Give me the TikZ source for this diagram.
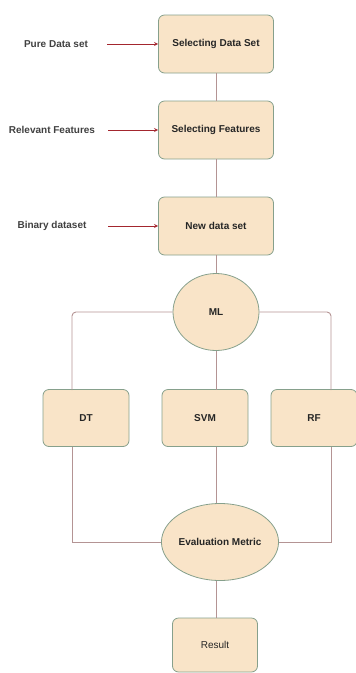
\documentclass[tikz,border=0pt]{standalone}
\usepackage{fontspec}
\setmainfont{Liberation Sans}
\usetikzlibrary{shapes.geometric}
\definecolor{boxfill}{HTML}{F9E4C8}
\definecolor{boxline}{HTML}{86A08C}
\definecolor{linkcol}{HTML}{B49494}
\definecolor{arrcol}{HTML}{A3262E}
\tikzset{
	stage/.style={draw=boxline,fill=boxfill,rounded corners=6pt,line width=0.8pt,minimum width=115pt,minimum height=58pt,font=\bfseries\fontsize{10}{11}\selectfont,text=black!85},
	algo/.style={stage,minimum width=86pt,minimum height=57pt},
	blob/.style={ellipse,draw=boxline,fill=boxfill,line width=0.8pt,inner sep=0pt,font=\bfseries\fontsize{10}{11}\selectfont,text=black!85},
	src/.style={font=\bfseries\fontsize{10}{11}\selectfont,text=black!75},
	link/.style={draw=linkcol,line width=0.9pt},
	feed/.style={draw=arrcol,line width=0.8pt,-stealth}
}
\begin{document}
\begin{tikzpicture}[x=1pt,y=-1pt]
	\useasboundingbox (0,0) rectangle (356,673);
	% main chain
	\node[stage] (sel) at (216,44) {Selecting Data Set};
	\node[stage] (feat) at (216,130) {Selecting Features};
	\node[stage] (new) at (216,226) {New data set};
	\node[blob,minimum width=86pt,minimum height=77pt] (ml) at (216,312) {ML};
	% inputs
	\node[src] (pure) at (56,44) {Pure Data set};
	\node[src] (rel) at (52,130) {Relevant Features};
	\node[src] (bin) at (52,226) {Binary dataset};
	\coordinate (pureend) at (107,44);
	\coordinate (relend) at (108,130);
	\coordinate (binend) at (108,226);
	\draw[feed] (pureend) -- (sel.west); %in 1
	\draw[feed] (relend) -- (feat.west); %in 2
	\draw[feed] (binend) -- (new.west); %in 3
	\draw[link] (sel) -- (feat);
	\draw[link] (feat) -- (new);
	\draw[link] (new) -- (ml);
	% classifiers
	\node[algo] (dt) at (86,418) {DT};
	\node[algo] (svm) at (205,418) {SVM};
	\node[algo] (rf) at (314,418) {RF};
	\node[blob,minimum width=94pt,minimum height=77pt] (eval) at (220,542) {Evaluation Metric};
	\node[stage,minimum width=85pt,minimum height=54pt,font=\fontsize{10}{11}\selectfont] (res) at (215,645) {Result};
	\coordinate (dtup) at (72,390);
	\coordinate (rfup) at (331,390);
	\coordinate (dtdown) at (72,447);
	\coordinate (rfdown) at (331,447);
	\coordinate (svmup) at (216,390);
	\coordinate (svmdown) at (216,447);
	\coordinate (resup) at (216,618);
	\draw[link,rounded corners=4pt] (ml.west) -| (dtup);
	\draw[link,rounded corners=4pt] (ml.east) -| (rfup);
	\draw[link] (ml.south) -- (svmup);
	\draw[link] (dtdown) |- (eval.west);
	\draw[link] (rfdown) |- (eval.east);
	\draw[link] (svmdown) -- (eval.north -| svmdown);
	\draw[link] (eval.south -| resup) -- (resup);
\end{tikzpicture}
\end{document}
